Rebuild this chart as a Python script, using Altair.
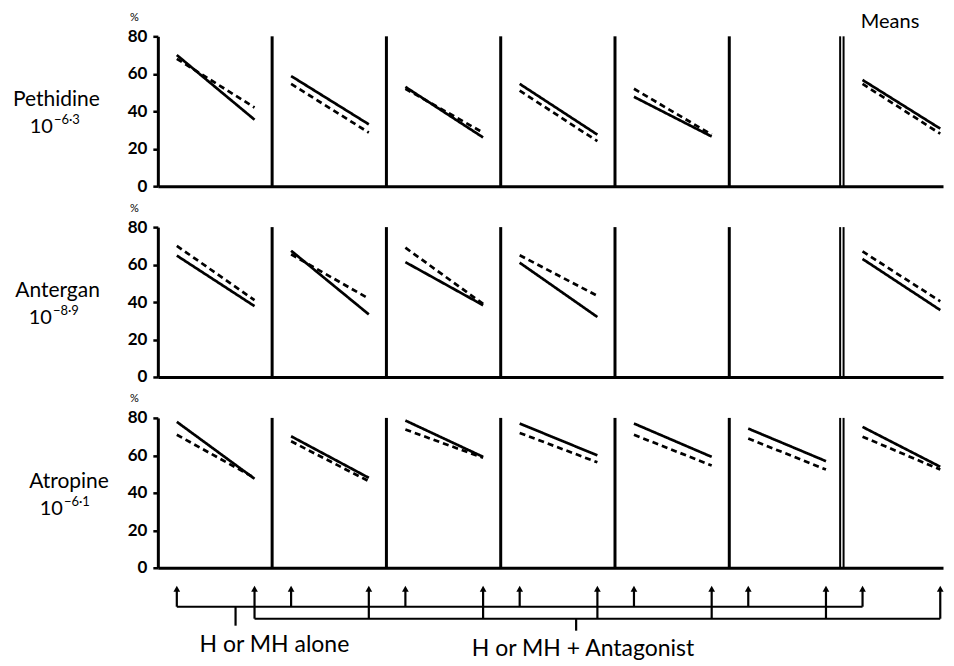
import altair as alt
import pandas as pd

# ---------------- data ----------------
drugs = ["Pethidine", "Antergan", "Atropine"]
exponents = ["\u22126\u00b73", "\u22128\u00b79", "\u22126\u00b71"]
panels = [0, 1, 2, 3, 4, 5, 6]          # panel 6 = "Means"

# response (%) at start / end of each line; None = no line in that panel
solid_start = {
    "Pethidine": [70, 58.8, 53, 54.6, 47.7, None, 56.7],
    "Antergan":  [64.8, 67.4, 61.3, 61, None, None, 63],
    "Atropine":  [77.9, 70.2, 78.6, 77, 77, 74.3, 75.2],
}
solid_end = {
    "Pethidine": [35.5, 33, 26, 27.5, 26.5, None, 30.7],
    "Antergan":  [37.8, 33.4, 38.3, 32, None, None, 35.7],
    "Atropine":  [47.5, 48, 59.2, 60, 59.2, 56.9, 53.9],
}
dashed_start = {
    "Pethidine": [68, 54.6, 52, 51, 52, None, 54.6],
    "Antergan":  [70, 65.5, 69, 65, None, None, 67],
    "Atropine":  [71, 67.5, 73.8, 72, 71, 69, 70],
}
dashed_end = {
    "Pethidine": [42, 28.6, 28.6, 24, 27.5, None, 28],
    "Antergan":  [41, 41.8, 39, 43.3, None, None, 40.4],
    "Atropine":  [48, 46.2, 58.7, 56.3, 54.6, 52.4, 52.4],
}
y_ticks = [0, 20, 40, 60, 80]
label_alone = "H or MH alone"
label_antag = "H or MH + Antagonist"

# ---------------- layout ----------------
X_MAX = 6.87
X_START, X_END = 0.166, 0.846
W, H = 786, 150
SEP_X = [1, 2, 3, 4, 5, 5.97, 6.0]
SEP_W = [3, 3, 3, 3, 3, 2, 2]
NAME_RIGHT = [-58, -58, -49]     # right edge of drug name (px from plot left)
TEN_RIGHT = [-105, -106, -95]    # right edge of "10"
FONT = "Lato"

rows = []
for d in drugs:
    for p in panels:
        for series, s_arr, e_arr in (("solid", solid_start, solid_end),
                                     ("dashed", dashed_start, dashed_end)):
            a, b = s_arr[d][p], e_arr[d][p]
            if a is None:
                continue
            rows.append(dict(drug=d, key=f"{p}-{series}", series=series, x=p + X_START, value=a))
            rows.append(dict(drug=d, key=f"{p}-{series}", series=series, x=p + X_END, value=b))
df = pd.DataFrame(rows)
seps = pd.DataFrame({"x": SEP_X, "w": SEP_W})

xs = alt.Scale(domain=[0, X_MAX], nice=False, zero=False)
x_axis = alt.Axis(title=None, labels=False, ticks=False, grid=False,
                  domainWidth=3, domainColor="black")
y_scale = alt.Scale(domain=[0, 80], nice=False)
y_axis = alt.Axis(values=y_ticks, labelOverlap=False, title="%", titleAngle=0, titleX=-24,
                  titleY=-19, titleFontSize=11, titleFontWeight="normal", titleAlign="center",
                  titleBaseline="middle", titleFont=FONT, titleColor="black",
                  labelFont=FONT, labelFontSize=17, labelFontWeight="bold",
                  labelColor="black", labelPadding=6, tickSize=5, tickWidth=2.5,
                  tickColor="black", domainWidth=3, domainColor="black", grid=False)


def row_chart(i, drug):
    d = df[df.drug == drug]
    lines = alt.Chart(d).mark_line(color="black", strokeWidth=2.7, strokeCap="butt").encode(
        x=alt.X("x:Q", scale=xs, axis=x_axis),
        y=alt.Y("value:Q", scale=y_scale, axis=y_axis),
        detail="key:N",
        strokeDash=alt.StrokeDash("series:N",
                                  scale=alt.Scale(domain=["solid", "dashed"], range=[[1, 0], [6, 4]]),
                                  legend=None),
    )
    rules = alt.Chart(seps).mark_rule(color="black").encode(
        x=alt.X("x:Q", scale=xs, axis=x_axis),
        y=alt.Y(datum=0, scale=y_scale, axis=y_axis), y2=alt.datum(80),
        strokeWidth=alt.StrokeWidth("w:Q", scale=None),
    )
    name = alt.Chart(pd.DataFrame({"t": [drug]})).mark_text(
        font=FONT, fontSize=21, align="right", baseline="alphabetic", color="black").encode(
        text="t:N", x=alt.value(NAME_RIGHT[i]), y=alt.value(70))
    ten = alt.Chart(pd.DataFrame({"t": ["10"]})).mark_text(
        font=FONT, fontSize=20, align="right", baseline="alphabetic", color="black").encode(
        text="t:N", x=alt.value(TEN_RIGHT[i]), y=alt.value(97))
    ex = alt.Chart(pd.DataFrame({"t": [exponents[i]]})).mark_text(
        font=FONT, fontSize=13, align="left", baseline="alphabetic", color="black").encode(
        text="t:N", x=alt.value(TEN_RIGHT[i] + 1), y=alt.value(88))
    layers = [rules, lines, name, ten, ex]
    if i == 0:
        means = alt.Chart(pd.DataFrame({"t": ["Means"]})).mark_text(
            font=FONT, fontSize=20, align="center", baseline="alphabetic", color="black").encode(
            text="t:N", x=alt.value(733), y=alt.value(-8))
        layers.append(means)
    return alt.layer(*layers).properties(width=W, height=H)


# ---------------- bottom arrows / brackets ----------------
SPACING = 41
HB = 50
Y_TIP, Y_UP, Y_LO = 19, 39, 51
starts_x = [p + X_START for p in panels]
ends_x = [p + X_END for p in panels]
stems = pd.DataFrame({"x": starts_x + ends_x,
                      "y0": [Y_UP] * len(starts_x) + [Y_LO] * len(ends_x),
                      "y1": [Y_TIP + 2] * (len(starts_x) + len(ends_x))})
brackets = pd.DataFrame({"x": [starts_x[0], ends_x[0]], "x2": [starts_x[-1], ends_x[-1]],
                         "y": [Y_UP, Y_LO]})
ticks = pd.DataFrame({"x": [0.68, 3.66], "y0": [Y_UP, Y_LO], "y1": [58, 63]})
texts = pd.DataFrame({"x": [1.02, 3.72], "y": [84, 88], "t": [label_alone, label_antag]})

ys = alt.Scale(domain=[SPACING, SPACING + HB], reverse=True, nice=False, zero=False)
bx = alt.X("x:Q", scale=xs, axis=None)

b_stems = alt.Chart(stems).mark_rule(color="black", strokeWidth=2.2).encode(
    x=bx, y=alt.Y("y0:Q", scale=ys, axis=None), y2="y1:Q")
b_heads = alt.Chart(stems).mark_point(shape="triangle-up", filled=True, size=45, color="black",
                                      opacity=1).encode(
    x=bx, y=alt.Y("y1:Q", scale=ys, axis=None))
b_br = alt.Chart(brackets).mark_rule(color="black", strokeWidth=2).encode(
    x=bx, x2="x2:Q", y=alt.Y("y:Q", scale=ys, axis=None))
b_ticks = alt.Chart(ticks).mark_rule(color="black", strokeWidth=2.2).encode(
    x=bx, y=alt.Y("y0:Q", scale=ys, axis=None), y2="y1:Q")
b_text = alt.Chart(texts).mark_text(font=FONT, fontSize=23, align="center", baseline="alphabetic",
                                    color="black").encode(
    x=bx, y=alt.Y("y:Q", scale=ys, axis=None), text="t:N")
bottom = alt.layer(b_br, b_stems, b_heads, b_ticks, b_text).properties(width=W, height=HB)

chart = alt.vconcat(*[row_chart(i, d) for i, d in enumerate(drugs)], bottom,
                    spacing=SPACING, bounds="flush").properties(
    padding={"left": 5, "top": 3, "right": 0, "bottom": 0}).configure_view(
    stroke=None).configure_axis(grid=False)

chart.save("out.html", embed_options={"renderer": "svg", "actions": False})
